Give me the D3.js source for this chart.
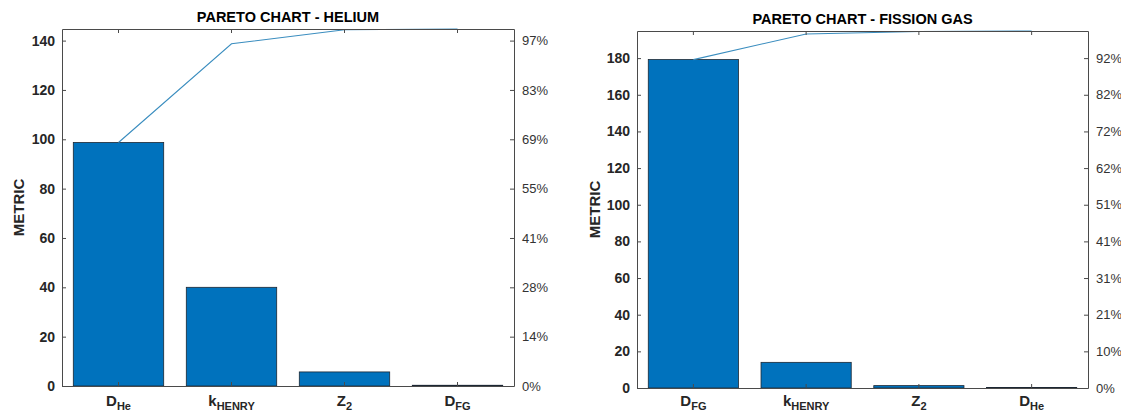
<!DOCTYPE html>
<html>
<head>
<meta charset="utf-8">
<script src="https://cdn.jsdelivr.net/npm/d3@7"></script>
<style>
  body { margin: 0; background: #fff; }
  svg { display: block; }
  text { font-family: "Liberation Sans", Arial, sans-serif; fill: #262626; }
</style>
</head>
<body>
<div id="chart"></div>
<script>
// helium pareto
var heLabelMain = ["D", "k", "Z", "D"];
var heLabelSub = ["He", "HENRY", "2", "FG"];
var heValues = [98.7, 40, 5.7, 0.3];
var heTicks = [0, 20, 40, 60, 80, 100, 120, 140];
var hePctLabels = ["0%", "14%", "28%", "41%", "55%", "69%", "83%", "97%"];

// fission gas pareto
var fgLabelMain = ["D", "k", "Z", "D"];
var fgLabelSub = ["FG", "HENRY", "2", "He"];
var fgValues = [179.2, 14, 1.3, 0.3];
var fgTicks = [0, 20, 40, 60, 80, 100, 120, 140, 160, 180];
var fgPctLabels = ["0%", "10%", "21%", "31%", "41%", "51%", "62%", "72%", "82%", "92%"];

var barColor = '#0072BD',
    lineColor = '#3a8dbf',
    axisColor = '#4a4a4a';

var svg = d3.select("#chart").append("svg")
  .attr("width", 1121)
  .attr("height", 414);

function drawPareto(opts) {
  var x0 = opts.box[0], x1 = opts.box[1], y0 = opts.box[2], y1 = opts.box[3];
  var total = d3.sum(opts.values);
  var keys = opts.main.map(function(d, i) { return i; });

  var xScale = d3.scaleBand()
    .domain(keys)
    .range([x0, x1])
    .paddingInner(0.2)
    .paddingOuter(0.1);

  var yScale = d3.scaleLinear()
    .domain([0, total])
    .range([y1, y0]);

  var g = svg.append("g");

  // bars
  g.selectAll(".bar")
      .data(opts.values)
    .enter().append("rect")
      .attr("class", "bar")
      .attr("x", function(d, i) { return xScale(i); })
      .attr("width", xScale.bandwidth())
      .attr("y", function(d) { return yScale(d); })
      .attr("height", function(d) { return y1 - yScale(d); })
      .style("fill", barColor)
      .style("stroke", "#1c2733")
      .style("stroke-width", 0.8);

  // cumulative line
  var cum = Array.from(d3.cumsum(opts.values));
  var line = d3.line()
    .x(function(d, i) { return xScale(i) + xScale.bandwidth() / 2; })
    .y(function(d) { return yScale(d); });

  g.append("path")
    .datum(cum)
    .attr("d", line)
    .style("fill", "none")
    .style("stroke", lineColor)
    .style("stroke-width", 1.1);

  // axes
  var xAxis = d3.axisBottom(xScale).tickSize(-4).tickSizeOuter(0).tickFormat("");
  var xTop = d3.axisTop(xScale).tickSize(-4).tickSizeOuter(0).tickFormat("");
  var yAxis = d3.axisLeft(yScale).tickValues(opts.ticks).tickSize(-4).tickSizeOuter(0).tickPadding(7);
  var yRight = d3.axisRight(yScale).tickValues(opts.ticks).tickSize(-4).tickSizeOuter(0).tickPadding(8)
    .tickFormat(function(d, i) { return opts.pct[i]; });

  var gx = g.append("g").attr("transform", "translate(0," + y1 + ")").call(xAxis);
  var gt = g.append("g").attr("transform", "translate(0," + y0 + ")").call(xTop);
  var gy = g.append("g").attr("transform", "translate(" + x0 + ",0)").call(yAxis);
  var gr = g.append("g").attr("transform", "translate(" + x1 + ",0)").call(yRight);

  [gx, gt, gy, gr].forEach(function(a) {
    a.selectAll("path, line").style("stroke", axisColor).style("stroke-width", 1);
  });

  gy.selectAll("text")
    .style("font-size", "14px")
    .style("font-weight", "bold")
    .style("fill", "#262626");

  gr.selectAll("text")
    .style("font-size", "13px")
    .style("fill", "#333");

  // category labels with subscripts
  gx.selectAll(".tick").each(function(d) {
    var t = d3.select(this).append("text")
      .attr("y", opts.labelY)
      .attr("text-anchor", "middle")
      .style("font-weight", "bold")
      .style("fill", "#262626");
    t.append("tspan").style("font-size", "15px").text(opts.main[d]);
    t.append("tspan").attr("dy", 4).style("font-size", "11px").text(opts.sub[d]);
  });

  // title
  g.append("text")
    .attr("x", (x0 + x1) / 2)
    .attr("y", y0 - 7)
    .attr("text-anchor", "middle")
    .style("font-size", "14.5px")
    .style("font-weight", "bold")
    .style("fill", "#000")
    .text(opts.title);

  // y label
  g.append("text")
    .attr("transform", "translate(" + opts.ylabelX + "," + ((y0 + y1) / 2) + ") rotate(-90)")
    .attr("text-anchor", "middle")
    .attr("dy", "0.35em")
    .style("font-size", "15px")
    .style("font-weight", "bold")
    .style("fill", "#262626")
    .text("METRIC");
}

drawPareto({
  box: [62, 514, 29, 386],
  main: heLabelMain, sub: heLabelSub, values: heValues,
  ticks: heTicks, pct: hePctLabels,
  title: "PARETO CHART  - HELIUM",
  ylabelX: 19, labelY: 20
});

drawPareto({
  box: [637, 1088, 31, 388],
  main: fgLabelMain, sub: fgLabelSub, values: fgValues,
  ticks: fgTicks, pct: fgPctLabels,
  title: "PARETO CHART  - FISSION GAS",
  ylabelX: 595, labelY: 18
});
</script>
</body>
</html>
